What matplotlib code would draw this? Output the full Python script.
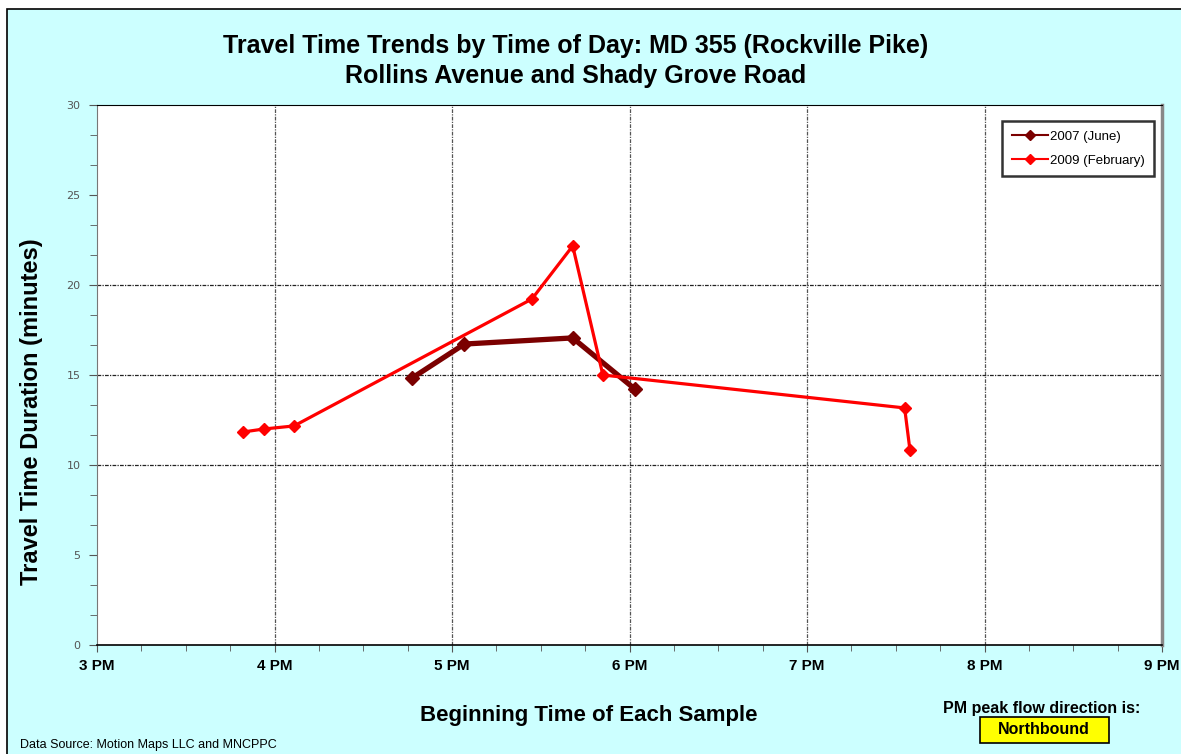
import numpy as np
import matplotlib.pyplot as plt
from matplotlib.ticker import MultipleLocator
from matplotlib.patches import Rectangle

# ------------------------------------------------------------------ data (hours of day, minutes)
x_2007 = [16.775, 17.07, 17.68, 18.03]
y_2007 = [14.83, 16.72, 17.06, 14.22]

x_2009 = [15.82, 15.94, 16.11, 17.45, 17.68, 17.85, 19.55, 19.58]
y_2009 = [11.83, 12.0, 12.17, 19.22, 22.17, 15.0, 13.17, 10.83]

hour_ticks = [15, 16, 17, 18, 19, 20, 21]
hour_labels = ['3 PM', '4 PM', '5 PM', '6 PM', '7 PM', '8 PM', '9 PM']
y_ticks = [0, 5, 10, 15, 20, 25, 30]

# ------------------------------------------------------------------ figure
W, H = 1181, 754
fig = plt.figure(figsize=(W / 100, H / 100), dpi=100)
fig.patch.set_facecolor('white')

# cyan chart area with black border
fig.patches.append(Rectangle((7 / W, -0.01), 1.0, 1 - 9 / H + 0.01, transform=fig.transFigure,
                             facecolor='#CCFFFF', edgecolor='black', linewidth=1.2, zorder=-10))

ax = fig.add_axes([97 / W, 1 - 645 / H, (1162 - 97) / W, (645 - 105) / H])
ax.set_facecolor('white')

ax.plot(x_2007, y_2007, color='#7B0000', linewidth=3.8, marker='D', markersize=7,
        label='2007 (June)', zorder=3)
ax.plot(x_2009, y_2009, color='#FF0000', linewidth=2.3, marker='D', markersize=6.5,
        label='2009 (February)', zorder=4)

ax.set_xlim(15, 21)
ax.set_ylim(0, 30)
ax.set_xticks(hour_ticks)
ax.set_xticklabels(hour_labels, fontsize=11, fontweight='bold', family='Liberation Sans')
ax.xaxis.set_minor_locator(MultipleLocator(0.25))
ax.set_yticks(y_ticks)
ax.set_yticklabels([str(v) for v in y_ticks], fontsize=8, color='#555555')
ax.yaxis.set_minor_locator(MultipleLocator(5 / 3))
ax.tick_params(axis='x', which='major', direction='out', length=5, pad=5, color='#555555')
ax.tick_params(axis='x', which='minor', direction='out', length=4, color='#555555')
ax.tick_params(axis='y', which='major', direction='out', length=6, pad=6, color='#555555')
ax.tick_params(axis='y', which='minor', direction='out', length=5, color='#555555')

# grid: vertical at the hours, horizontal only at 10, 15, 20
for h in hour_ticks[1:-1]:
    ax.axvline(h, color='#555555', linewidth=0.9, linestyle=(0, (3, 1, 1, 1)), zorder=1)
for v in [10, 15, 20]:
    ax.axhline(v, color='#222222', linewidth=0.9, linestyle=(0, (3, 1, 1, 1)), zorder=1)

ax.spines['top'].set_color('black')
ax.spines['bottom'].set_color('black')
ax.spines['bottom'].set_linewidth(1.2)
ax.spines['left'].set_color('#777777')
ax.spines['right'].set_color('#888888')
ax.spines['right'].set_linewidth(2.5)

leg = ax.legend(loc='upper right', bbox_to_anchor=(0.9985, 0.982),
                frameon=True, fancybox=False, handlelength=2.8, handletextpad=0.1,
                borderpad=0.7, labelspacing=0.9, prop={'family': 'Liberation Sans', 'size': 9.5})
leg.get_frame().set_edgecolor('black')
leg.get_frame().set_linewidth(1.8)
for line in leg.get_lines():
    line.set_linewidth(1.5)
    line.set_markersize(5)

# ------------------------------------------------------------------ texts
fig.text(576 / W, 1 - 46 / H, 'Travel Time Trends by Time of Day: MD 355 (Rockville Pike)',
         ha='center', va='center', fontsize=18, fontweight='bold', family='Liberation Sans')
fig.text(576 / W, 1 - 76 / H, 'Rollins Avenue and Shady Grove Road',
         ha='center', va='center', fontsize=18, fontweight='bold', family='Liberation Sans')
fig.text(32 / W, 1 - 412 / H, 'Travel Time Duration (minutes)', rotation=90,
         ha='center', va='center', fontsize=17, fontweight='bold', family='Liberation Sans')
fig.text(589 / W, 1 - 716 / H, 'Beginning Time of Each Sample',
         ha='center', va='center', fontsize=16, fontweight='bold', family='Liberation Sans')
fig.text(20 / W, 1 - 745 / H, 'Data Source: Motion Maps LLC and MNCPPC',
         ha='left', va='center', fontsize=9, family='Liberation Sans')
fig.text(1042 / W, 1 - 708 / H, 'PM peak flow direction is:',
         ha='center', va='center', fontsize=11.5, fontweight='bold', family='Liberation Sans')
fig.patches.append(Rectangle((980 / W, 1 - 743 / H), 129 / W, 26 / H, transform=fig.transFigure,
                             facecolor='#FFFF00', edgecolor='black', linewidth=1.2, zorder=5))
fig.text(1044 / W, 1 - 730 / H, 'Northbound', ha='center', va='center', fontsize=11.5,
         fontweight='bold', family='Liberation Sans', zorder=6)

fig.savefig('out.png', dpi=100)
